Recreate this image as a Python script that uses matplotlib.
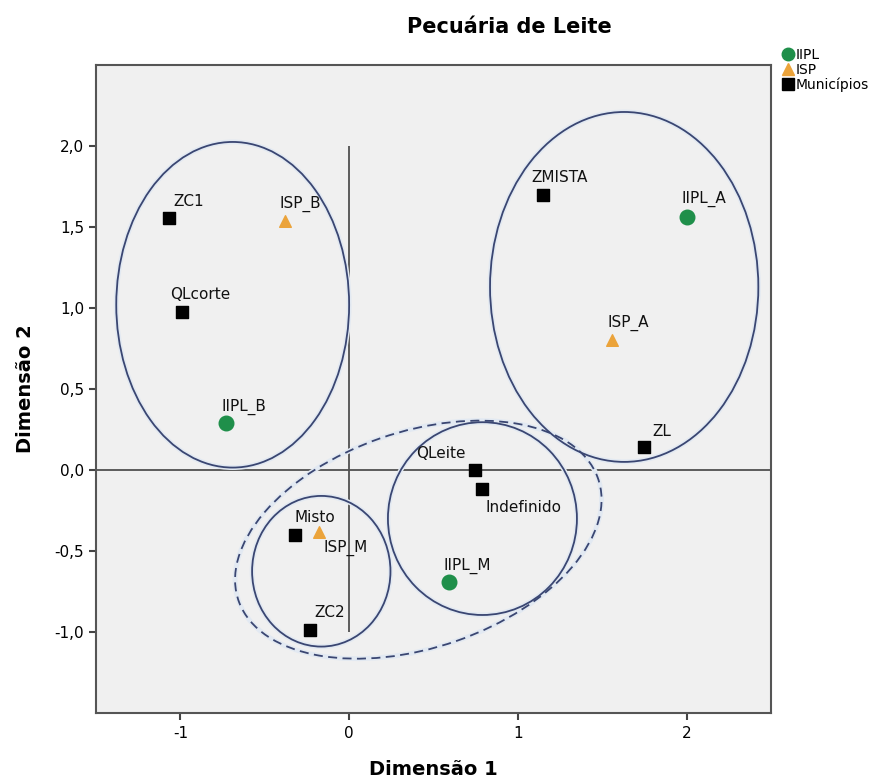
import matplotlib
matplotlib.use("Agg")
import matplotlib.pyplot as plt
from matplotlib.patches import Ellipse
from matplotlib.lines import Line2D

plt.rcParams["font.family"] = ["DejaVu Sans"]

# --- data ---
iipl_names = ["IIPL_B", "IIPL_A", "IIPL_M"]
iipl_x = [-0.73, 2.00, 0.59]
iipl_y = [0.29, 1.56, -0.69]

isp_names = ["ISP_B", "ISP_A", "ISP_M"]
isp_x = [-0.38, 1.56, -0.18]
isp_y = [1.54, 0.80, -0.38]

mun_names = ["ZC1", "QLcorte", "ZMISTA", "ZL", "QLeite", "Indefinido", "Misto", "ZC2"]
mun_x = [-1.07, -0.99, 1.15, 1.745, 0.745, 0.79, -0.32, -0.23]
mun_y = [1.555, 0.975, 1.70, 0.14, 0.0, -0.12, -0.40, -0.99]

x_ticks = [-1, 0, 1, 2]
y_ticks = [-1.0, -0.5, 0.0, 0.5, 1.0, 1.5, 2.0]

# group ellipses: (center x, center y, width, height, angle, dashed)
groups = [
    (-0.69, 1.02, 1.38, 2.01, 0, False),
    (1.63, 1.13, 1.59, 2.16, 0, False),
    (-0.165, -0.625, 0.82, 0.93, 0, False),
    (0.79, -0.30, 1.12, 1.19, 0, False),
    (0.41, -0.43, 2.26, 1.33, 20, True),
]

# label placement relative to marker, in pixels (dx, dy, ha)
label_pos = {
    "ZC1": (5, 12, "left"), "ISP_B": (-5, 13, "left"), "QLcorte": (-12, 13, "left"),
    "IIPL_B": (-4, 12, "left"), "ZMISTA": (-12, 13, "left"), "IIPL_A": (-5, 14, "left"),
    "ISP_A": (-5, 14, "left"), "ZL": (9, 11, "left"), "QLeite": (-9, 12, "right"),
    "Indefinido": (3, -23, "left"), "IIPL_M": (-5, 12, "left"), "Misto": (-1, 13, "left"),
    "ISP_M": (5, -20, "left"), "ZC2": (4, 13, "left"),
}

green = "#1f8f4a"
orange = "#eba33a"
ring = "#3a4672"

fig = plt.figure(figsize=(8.87, 7.84), dpi=100)
ax = fig.add_axes([96 / 887, 71 / 784, 675 / 887, 648 / 784])
ax.set_facecolor("#f0f0f0")
ax.set_xlim(-1.5, 2.5)
ax.set_ylim(-1.5, 2.5)

# reference lines
ax.axhline(0, color="#505050", lw=1.3, zorder=1)
ax.vlines(0, -1.0, 2.0, color="#505050", lw=1.3, zorder=1)

for cx, cy, w, h, ang, dashed in groups:
    ax.add_patch(Ellipse((cx, cy), w, h, angle=ang, fill=False, ec="#e2e9f2", lw=3.5, zorder=2))
    ax.add_patch(Ellipse((cx, cy), w, h, angle=ang, fill=False, ec=ring, lw=1.3,
                         ls=(0, (5, 3)) if dashed else "-", zorder=3))

ax.scatter(mun_x, mun_y, marker="s", s=75, color="black", zorder=5)
ax.scatter(isp_x, isp_y, marker="^", s=70, color=orange, zorder=6)
ax.scatter(iipl_x, iipl_y, marker="o", s=110, color=green, zorder=6)

for names, xs, ys in [(mun_names, mun_x, mun_y), (isp_names, isp_x, isp_y),
                      (iipl_names, iipl_x, iipl_y)]:
    for n, x, y in zip(names, xs, ys):
        dx, dy, ha = label_pos[n]
        ax.annotate(n, (x, y), xytext=(dx, dy), textcoords="offset pixels",
                    ha=ha, va="baseline", fontsize=11, color="#111111", zorder=7)

ax.set_xticks(x_ticks)
ax.set_xticklabels([str(v) for v in x_ticks])
ax.set_yticks(y_ticks)
ax.set_yticklabels([f"{v:.1f}".replace(".", ",") for v in y_ticks])
ax.tick_params(direction="out", length=5, width=1.5, color="#444444", labelsize=11)
ax.tick_params(axis="x", pad=4)
for sp in ax.spines.values():
    sp.set_color("#555555")
    sp.set_linewidth(1.5)

ax.set_xlabel("Dimensão 1", fontsize=14, fontweight="bold", labelpad=14)
ax.set_ylabel("Dimensão 2", fontsize=14, fontweight="bold", labelpad=14)

fig.text(509 / 887, 1 - 27 / 784, "Pecuária de Leite", ha="center", va="center",
         fontsize=15, fontweight="bold")

handles = [
    Line2D([], [], marker="o", ls="", color=green, markersize=9),
    Line2D([], [], marker="^", ls="", color=orange, markersize=8),
    Line2D([], [], marker="s", ls="", color="black", markersize=8),
]
fig.legend(handles, ["IIPL", "ISP", "Municípios"], loc="upper left",
           bbox_to_anchor=(782 / 887, 1 - 48 / 784), frameon=False, fontsize=10,
           handlelength=0.8, handletextpad=0.2, labelspacing=0.05, borderpad=0,
           borderaxespad=0)

fig.savefig("out.png", dpi=100)
